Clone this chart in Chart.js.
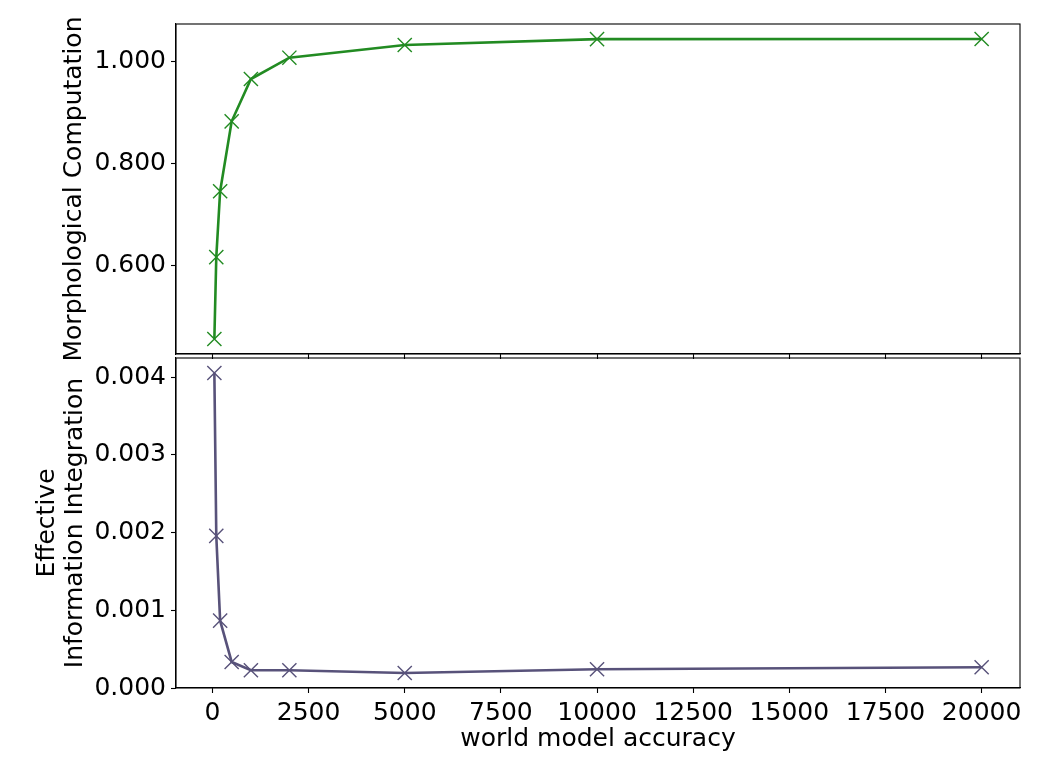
<!DOCTYPE html>
<html>
<head>
<meta charset="utf-8">
<script src="https://cdn.jsdelivr.net/npm/chart.js@4"></script>
<style>
  body { margin: 0; background: #fff; }
  #wrap { position: relative; width: 1037px; height: 768px; }
  canvas { position: absolute; left: 0; top: 0; }
</style>
</head>
<body>
<div id="wrap">
  <canvas id="morph" width="1037" height="768"></canvas>
  <canvas id="info" width="1037" height="768"></canvas>
</div>
<script>
// world model accuracy (x)
const accuracy = [50, 100, 200, 500, 1000, 2000, 5000, 10000, 20000];
// top panel
const morphComp = [0.4557, 0.6165, 0.7457, 0.8829, 0.966, 1.0078, 1.0327, 1.0442, 1.0445];
// bottom panel
const infoInt = [0.004052, 0.001957, 0.000866, 0.000335, 0.000228, 0.000228, 0.000193, 0.000241, 0.000267];

const xTicks = [0, 2500, 5000, 7500, 10000, 12500, 15000, 17500, 20000];
const morphTicks = [0.6, 0.8, 1.0];
const infoTicks = [0, 0.001, 0.002, 0.003, 0.004];

const FONT = { family: 'DejaVu Sans', size: 25, lineHeight: 1.12 };

// matplotlib style 5% margins
function margins(arr) {
  const lo = Math.min(...arr), hi = Math.max(...arr);
  const m = (hi - lo) * 0.05;
  return { min: lo - m, max: hi + m };
}
const xr = margins(accuracy);

// draw the box around the plot area
const frame = {
  id: 'frame',
  afterDraw(chart) {
    const { ctx, chartArea: a } = chart;
    ctx.save();
    ctx.strokeStyle = '#000';
    ctx.lineWidth = 1.1;
    ctx.strokeRect(a.left, a.top, a.right - a.left, a.bottom - a.top);
    ctx.restore();
  }
};

function setTicks(list) {
  return scale => { scale.ticks = list.map(v => ({ value: v })); };
}

function makePanel(id, values, color, yTicks, yDigits, yTitle, titlePad, bottomPanel) {
  const yr = margins(values);
  return new Chart(document.getElementById(id), {
    type: 'line',
    data: {
      labels: accuracy,
      datasets: [{
        data: accuracy.map((x, i) => ({ x: x, y: values[i] })),
        borderColor: color,
        backgroundColor: color,
        borderWidth: 2.6,
        tension: 0,
        pointStyle: 'crossRot',
        pointRadius: 10,
        pointBorderWidth: 1.4,
        pointBorderColor: color
      }]
    },
    options: {
      responsive: false,
      animation: false,
      events: [],
      layout: {
        padding: bottomPanel
          ? { top: 358, right: 17, bottom: 0, left: 0 }
          : { top: 24, right: 17, bottom: 404, left: 0 }
      },
      plugins: { legend: { display: false }, tooltip: { enabled: false } },
      scales: {
        x: {
          type: 'linear',
          min: xr.min,
          max: xr.max,
          afterBuildTicks: setTicks(xTicks),
          afterFit: s => { s.height = bottomPanel ? 80 : 10; },
          grid: { drawOnChartArea: false, color: '#000', tickLength: 5, tickWidth: 1.1 },
          border: { color: '#000', width: 1.1 },
          ticks: {
            display: bottomPanel,
            color: '#000',
            font: FONT,
            padding: 6,
            maxRotation: 0,
            callback: v => String(v)
          },
          title: {
            display: bottomPanel,
            text: 'world model accuracy',
            color: '#000',
            font: FONT,
            padding: { top: 0, bottom: 15 }
          }
        },
        y: {
          min: yr.min,
          max: yr.max,
          afterBuildTicks: setTicks(yTicks),
          afterFit: s => { s.width = 176; },
          grid: { drawOnChartArea: false, color: '#000', tickLength: 5, tickWidth: 1.1 },
          border: { color: '#000', width: 1.1 },
          ticks: {
            color: '#000',
            font: FONT,
            padding: 5,
            callback: v => v.toFixed(yDigits)
          },
          title: {
            display: true,
            text: yTitle,
            color: '#000',
            font: FONT,
            padding: { top: titlePad, bottom: 0 }
          }
        }
      }
    },
    plugins: [frame]
  });
}

makePanel('morph', morphComp, '#228b22', morphTicks, 3, 'Morphological Computation', 60, false);
makePanel('info', infoInt, '#58527a', infoTicks, 3, ['Effective', 'Information Integration'], 33, true);
</script>
</body>
</html>
